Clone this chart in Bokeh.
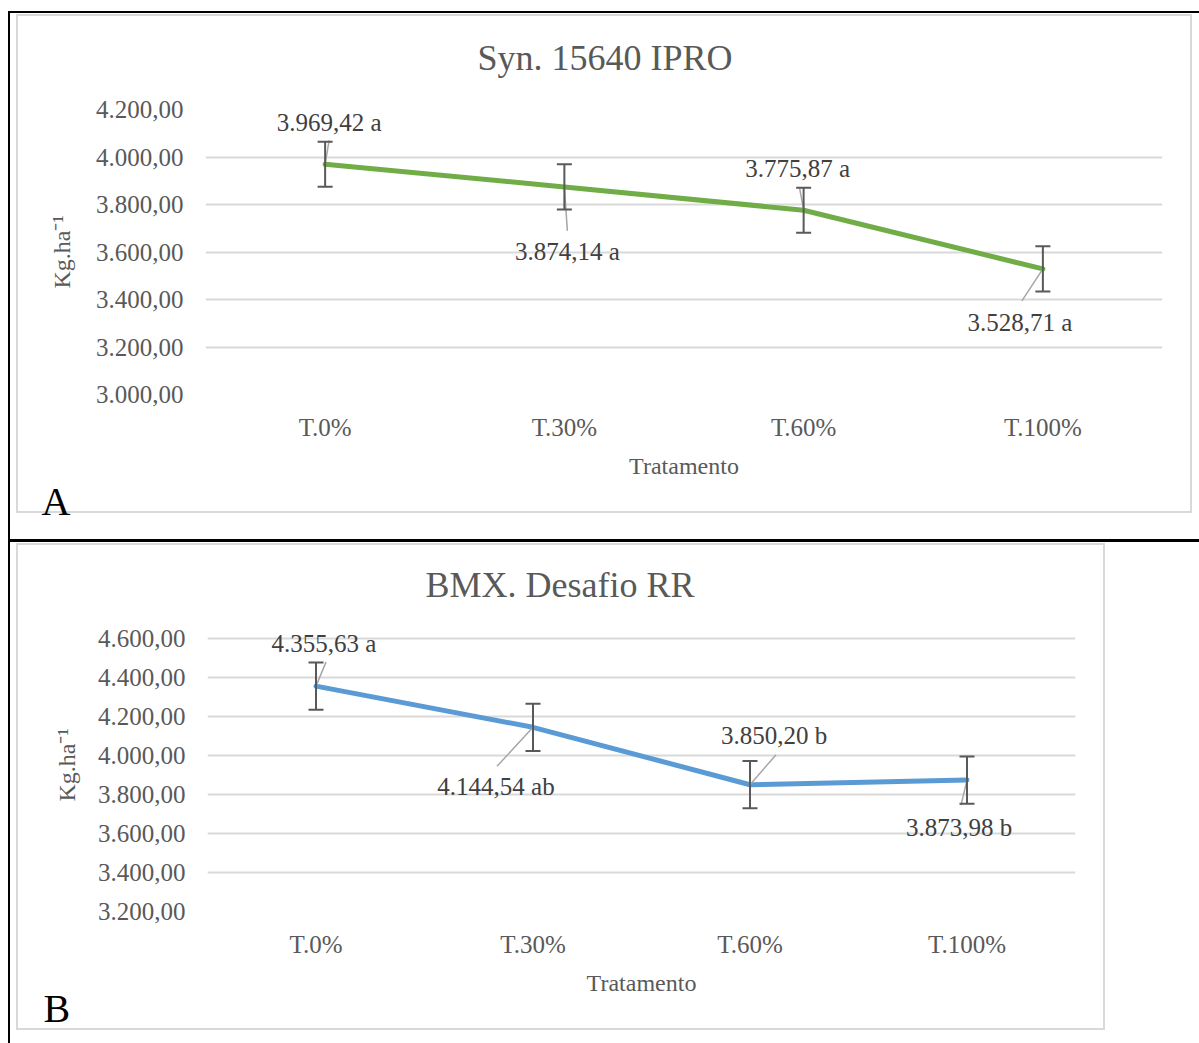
from bokeh.plotting import figure
from bokeh.models import Range1d, FixedTicker, ColumnDataSource, Whisker, TeeHead, Title
from bokeh.core.properties import value
from bokeh.embed import file_html
from bokeh.resources import INLINE

# ---------------- data ----------------
categories = ["T.0%", "T.30%", "T.60%", "T.100%"]
x_title = "Tratamento"
y_title = "Kg.ha\u207b\u00b9"

title_a = "Syn. 15640 IPRO"
values_a = [3969.42, 3874.14, 3775.87, 3528.71]
letters_a = ["a", "a", "a", "a"]
errors_a = [95, 95, 95, 95]
y_ticks_a = [3000, 3200, 3400, 3600, 3800, 4000, 4200]
y_tick_labels_a = ["3.000,00", "3.200,00", "3.400,00", "3.600,00", "3.800,00", "4.000,00", "4.200,00"]

title_b = "BMX. Desafio RR"
values_b = [4355.63, 4144.54, 3850.20, 3873.98]
letters_b = ["a", "ab", "b", "b"]
errors_b = [121, 121, 121, 121]
y_ticks_b = [3200, 3400, 3600, 3800, 4000, 4200, 4400, 4600]
y_tick_labels_b = ["3.200,00", "3.400,00", "3.600,00", "3.800,00", "4.000,00", "4.200,00", "4.400,00", "4.600,00"]

# ---------------- styles / layout ----------------
FONT = "Liberation Serif"
W = 1199
GRAY = "#D9D9D9"
# frame = (left, right, top of highest gridline, bottom gridline) in pixels; pad_top = extra frame above top gridline
cfg_a = dict(H=540, frame=(205, 1162, 109, 394), pad_top=0, color="#70AD47",
             title_offset=272, title_standoff=64, letter="A", letter_offset=-164, letter_standoff=-10,
             ylabel_standoff=18,
             boxes=[("#000", 8, 11, 2, 529), ("#000", 8, 11, 1191, 2), ("#000", 8, 539, 1191, 1),
                    (GRAY, 16, 14, 2, 499), (GRAY, 16, 14, 1176, 2),
                    (GRAY, 1190, 14, 2, 499), (GRAY, 16, 511, 1176, 2)],
             label_off=[(4, -42), (3, 65), (-6, -42), (-23, 54)],
             leader_off=[(4, -24), (3, 44), (-4, -22), (-21, 32)])
cfg_b = dict(H=503, frame=(207, 1075, 98, 371), pad_top=20, color="#5B9BD5",
             title_offset=218, title_standoff=27, letter="B", letter_offset=-164, letter_standoff=-30,
             ylabel_standoff=15,
             boxes=[("#000", 8, 0, 2, 503), ("#000", 8, 0, 1191, 2),
                    (GRAY, 16, 3, 2, 487), (GRAY, 16, 3, 1089, 2),
                    (GRAY, 1103, 3, 2, 487), (GRAY, 16, 488, 1089, 2)],
             label_off=[(8, -43), (-37, 59), (24, -49), (-8, 47)],
             leader_off=[(10, -24), (-36, 39), (26, -30), (-6, 25)])


def fmt(v):
    s = f"{v:,.2f}"
    return s.replace(",", "X").replace(".", ",").replace("X", ".")


def css_boxes(boxes):
    layers = [f"linear-gradient({c},{c}) {x}px {y}px / {w}px {h}px no-repeat" for c, x, y, w, h in boxes]
    return ", ".join(layers)


def make_panel(title, values, letters, errors, yticks, yticklabels, cfg):
    H = cfg["H"]
    fl, fr, ft, fb = cfg["frame"]
    fw, fh = fr - fl, fb - ft
    n = len(categories)
    ymin, ymax = yticks[0], yticks[-1]
    ppx = fw / n
    ppy = fh / (ymax - ymin)
    pad = cfg["pad_top"]
    p = figure(width=W, height=H, output_backend="svg", toolbar_location=None,
               x_range=Range1d(0, n), y_range=Range1d(ymin, ymax + pad / ppy),
               min_border_left=fl, min_border_right=W - fr,
               min_border_top=ft - pad, min_border_bottom=H - fb)
    p.outline_line_color = None
    p.background_fill_color = None
    p.border_fill_color = None
    p.styles = {"background": css_boxes(cfg["boxes"]) + ", white"}

    xs = [i + 0.5 for i in range(n)]

    # title
    p.title = Title(text=title, align="left", offset=cfg["title_offset"], standoff=cfg["title_standoff"],
                    text_font=FONT, text_font_size="36px", text_font_style="normal",
                    text_color="#595959")

    # axes
    p.xaxis.ticker = FixedTicker(ticks=xs)
    p.xaxis.major_label_overrides = {x: c for x, c in zip(xs, categories)}
    p.yaxis.ticker = FixedTicker(ticks=yticks)
    p.yaxis.major_label_overrides = {t: l for t, l in zip(yticks, yticklabels)}
    p.xaxis.axis_label = x_title
    p.yaxis.axis_label = y_title
    for ax in p.axis:
        ax.axis_line_color = None
        ax.major_tick_line_color = None
        ax.minor_tick_line_color = None
        ax.major_tick_out = 0
        ax.major_tick_in = 0
        ax.major_label_text_font = FONT
        ax.major_label_text_font_size = "25px"
        ax.major_label_text_color = "#595959"
        ax.axis_label_text_font = FONT
        ax.axis_label_text_font_size = "24px"
        ax.axis_label_text_font_style = "normal"
        ax.axis_label_text_color = "#595959"
    p.yaxis.major_label_standoff = 22
    p.yaxis.axis_label_standoff = cfg["ylabel_standoff"]
    p.xaxis.major_label_standoff = 19
    p.xaxis.axis_label_standoff = 9

    # panel letter (below the x axis)
    p.add_layout(Title(text=cfg["letter"], align="left", offset=cfg["letter_offset"],
                       standoff=cfg["letter_standoff"], text_font=FONT, text_font_size="40px",
                       text_font_style="normal", text_color="black"), "below")

    p.xgrid.grid_line_color = None
    p.ygrid.grid_line_color = GRAY
    p.ygrid.grid_line_width = 2

    # series
    p.line(xs, values, line_color=cfg["color"], line_width=5, line_cap="round", line_join="round")

    # leader lines
    ex = [x + d[0] / ppx for x, d in zip(xs, cfg["leader_off"])]
    ey = [v - d[1] / ppy for v, d in zip(values, cfg["leader_off"])]
    p.segment(x0=xs, y0=values, x1=ex, y1=ey, line_color="#A6A6A6", line_width=1.5)

    # error bars
    src = ColumnDataSource(dict(x=xs, upper=[v + e for v, e in zip(values, errors)],
                                lower=[v - e for v, e in zip(values, errors)]))
    w = Whisker(source=src, base="x", upper="upper", lower="lower", dimension="height",
                line_color="#595959", line_width=2, level="overlay",
                upper_head=TeeHead(size=15, line_color="#595959", line_width=2),
                lower_head=TeeHead(size=15, line_color="#595959", line_width=2))
    p.add_layout(w)

    # data labels
    lx = [x + d[0] / ppx for x, d in zip(xs, cfg["label_off"])]
    ly = [v - d[1] / ppy for v, d in zip(values, cfg["label_off"])]
    texts = [f"{fmt(v)} {l}" for v, l in zip(values, letters)]
    p.text(x=lx, y=ly, text=texts, text_font=value(FONT), text_font_size="25px",
           text_color="#404040", text_align="center", text_baseline="middle")
    return p


p1 = make_panel(title_a, values_a, letters_a, errors_a, y_ticks_a, y_tick_labels_a, cfg_a)
p2 = make_panel(title_b, values_b, letters_b, errors_b, y_ticks_b, y_tick_labels_b, cfg_b)

open("out.html", "w").write(file_html([p1, p2], INLINE, title="Produtividade"))
